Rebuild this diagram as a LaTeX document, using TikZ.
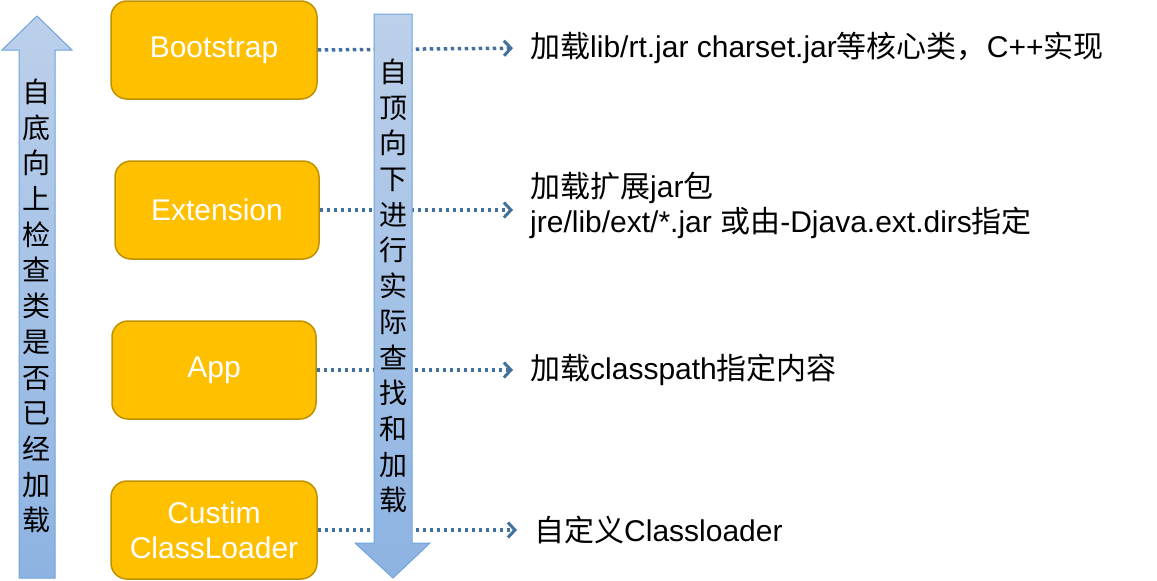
\documentclass[tikz,border=0pt]{standalone}
\usepackage{fontspec}
\setmainfont{Liberation Sans}
\newfontfamily\cjk{Noto Sans CJK SC}
\usetikzlibrary{arrows.meta}

\definecolor{loaderfill}{HTML}{FFC000}
\definecolor{loaderdraw}{HTML}{C09100}
\definecolor{linkblue}{HTML}{41719C}
\definecolor{flowtop}{HTML}{BCD0EA}
\definecolor{flowbot}{HTML}{8DB3E2}
\definecolor{flowdraw}{HTML}{6FA3DC}

\tikzset{
  loader/.style={rounded corners=16pt,fill=loaderfill,draw=loaderdraw,line width=1.5pt,
    minimum height=98pt,text=white,align=center,font=\fontsize{30}{35}\selectfont},
  desc/.style={anchor=west,inner sep=0pt,align=left,font=\fontsize{30}{35}\selectfont},
  link/.style={draw=linkblue,line width=3.5pt,dash pattern=on 3.5pt off 3.5pt,
    -{Straight Barb[length=7pt,width=15pt,line width=3pt]},shorten >=17pt},
  flow/.style={top color=flowtop,bottom color=flowbot,draw=flowdraw,line width=1pt},
  flowtext/.style={align=center,inner sep=0pt,font=\cjk\fontsize{28}{35.7}\selectfont}
}

\begin{document}
\begin{tikzpicture}[x=1pt,y=-1pt]
\useasboundingbox (0,0) rectangle (1157,581);

      \begin{scope}[every node/.style={loader}]
        \node[minimum width=206pt] (boot) at (214,50) {\raisebox{-2pt}{Bootstrap}};
        \node[minimum width=204pt] (ext) at (217,210) {\raisebox{-2pt}{Extension}};
        \node[minimum width=204pt] (app) at (214,370) {\raisebox{-2pt}{App}};
        \node[minimum width=206pt] (custom) at (214,530) {Custim\\ClassLoader};
      \end{scope}

      \begin{scope}[every node/.style={desc}]
        \node (bootTxt) at (530,48) {{\cjk 加载}lib/rt.jar charset.jar{\cjk 等核心类，}C++{\cjk 实现}};
        \node (extTxt) at (530,205) {{\cjk 加载扩展}jar{\cjk 包}\\jre/lib/ext/*.jar {\cjk 或由}-Djava.ext.dirs{\cjk 指定}};
        \node (appTxt) at (530,370) {{\cjk 加载}classpath{\cjk 指定内容}};
        \node (customTxt) at (534,530) {{\cjk 自定义}Classloader};
      \end{scope}

      \path[link] (boot.east) -- (bootTxt.west);
      \path[link] (ext.east) -- (ext.east -| extTxt.west);
      \path[link] (app.east) -- (appTxt.west);
      \path[link] (custom.east) -- (customTxt.west);

      % bottom-up check, top-down load
      \shade[flow] (37,16) -- (72,50) -- (55,50) -- (55,578) -- (19,578) -- (19,50) -- (2,50) -- cycle;
      \shade[flow] (374,14) -- (412,14) -- (412,543) -- (430,543) -- (393,578) -- (355,543) -- (374,543) -- cycle;

      \node[flowtext] (upText) at (37,306) {自\\底\\向\\上\\检\\查\\类\\是\\否\\已\\经\\加\\载};
      \node[flowtext] (downText) at (393,286) {自\\顶\\向\\下\\进\\行\\实\\际\\查\\找\\和\\加\\载};

\end{tikzpicture}
\end{document}
